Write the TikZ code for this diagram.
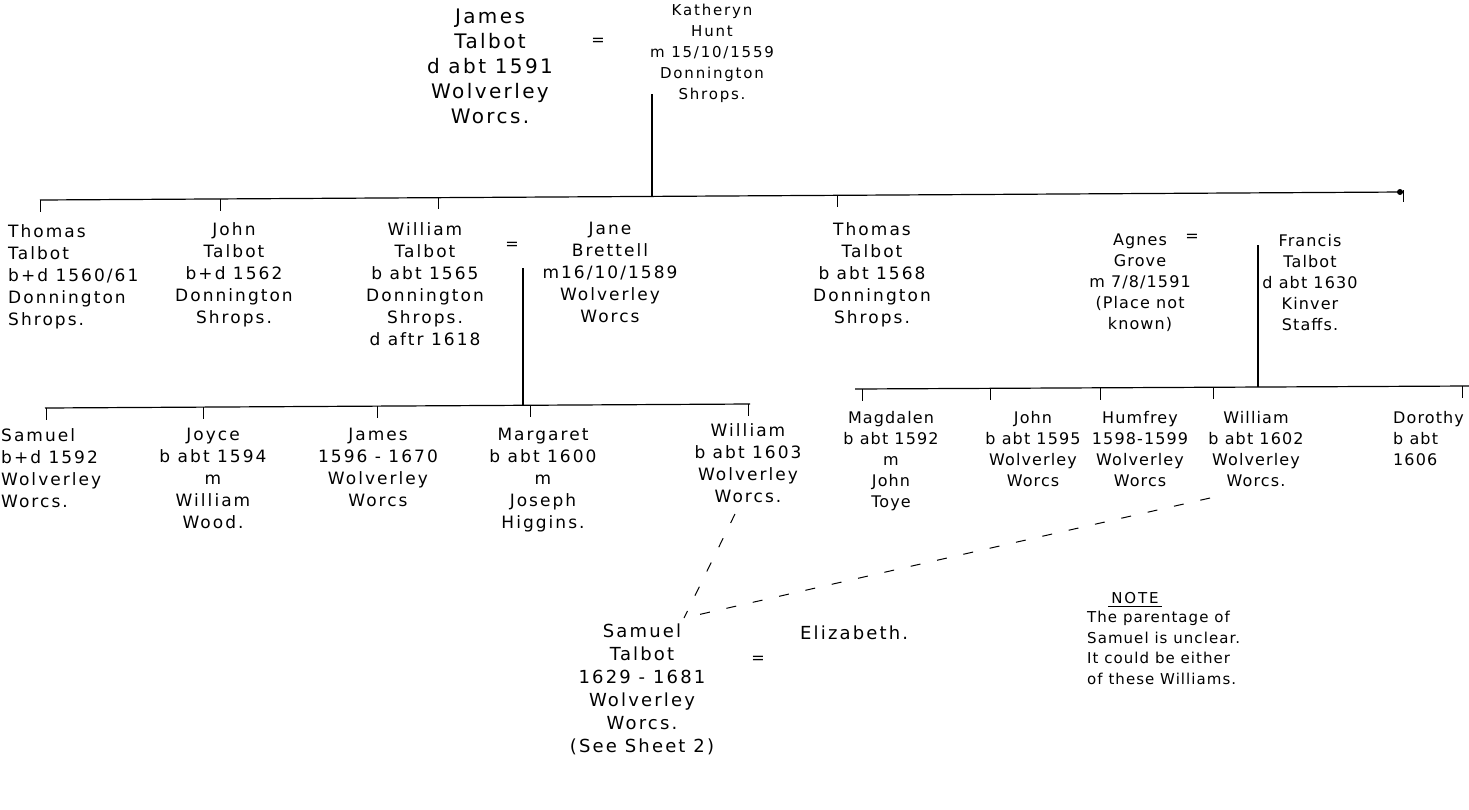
\documentclass[tikz,border=0pt]{standalone}
\usepackage{fontspec}
\usetikzlibrary{calc}
\newfontfamily\hand{DejaVu Sans}[LetterSpace=12]
\newfontfamily\handn{DejaVu Sans}[LetterSpace=7]
\tikzset{
  person/.style={align=center, inner sep=0pt, anchor=north, font=\hand\fontsize{17}{22}\selectfont},
  personL/.style={person, align=left, anchor=north west},
  smallperson/.style={person, font=\handn\fontsize{16}{21}\selectfont},
  bigperson/.style={person, font=\hand\fontsize{20}{25}\selectfont},
  eqsign/.style={inner sep=0pt, font=\hand\fontsize{16}{16}\selectfont},
  famline/.style={line width=1.2pt, black},
  tick/.style={line width=1pt, black},
  unsure/.style={line width=1pt, dash pattern=on 10pt off 17pt}
}
\begin{document}
\begin{tikzpicture}[x=1pt,y=-1pt]
\useasboundingbox (0,0) rectangle (1469,809);
\clip (0,0) rectangle (1469,809);
% top couple
\node[bigperson] (james) at (490,9) {James\\Talbot\\d abt 1591\\Wolverley\\Worcs.};
\node[eqsign] (eq1) at (598,42) {=};
\node[person, font=\hand\fontsize{15}{21}\selectfont] (kath) at (712,4) {Katheryn\\Hunt\\m 15/10/1559\\Donnington\\Shrops.};
\coordinate (m1) at (652,94);
\coordinate (j1) at (652,197);
\coordinate (g1L) at (40,200);
\coordinate (g1R) at (1403,192);
\draw[famline] (m1) -- (j1);
\draw[famline] (g1L) -- (g1R);
% generation 1 tick tops
\coordinate (t11) at (40,200);
\coordinate (t12) at (220,199);
\coordinate (t13) at (438,197);
\coordinate (t14) at (837,195);
\coordinate (t15) at (1403,190);
\foreach \t in {t11,t12,t13,t14,t15} \draw[tick] (\t) -- ++(0,12);
\fill (1400,192) circle (3pt);
% generation 1
\node[personL] (thomas1) at (8,224) {Thomas\\Talbot\\b+d 1560/61\\Donnington\\Shrops.};
\node[person] (john1) at (234,222) {John\\Talbot\\b+d 1562\\Donnington\\Shrops.};
\node[person] (william1) at (425,222) {William\\Talbot\\b abt 1565\\Donnington\\Shrops.\\d aftr 1618};
\node[eqsign] (eq2) at (512,246) {=};
\node[person] (jane) at (610,222) {Jane\\Brettell\\m16/10/1589\\Wolverley\\Worcs};
\node[person] (thomas2) at (872,222) {Thomas\\Talbot\\b abt 1568\\Donnington\\Shrops.};
\node[smallperson] (agnes) at (1140,234) {Agnes\\Grove\\m 7/8/1591\\(Place not\\known)};
\node[eqsign] (eq3) at (1192,238) {=};
\node[smallperson] (francis) at (1310,234) {Francis\\Talbot\\d abt 1630\\Kinver\\Staffs.};
% William = Jane children
\coordinate (m2) at (523,268);
\coordinate (j2) at (523,405);
\draw[famline] (m2) -- (j2);
\coordinate (g2L) at (45,408);
\coordinate (g2R) at (750,404);
\draw[famline] (g2L) -- (g2R);
\coordinate (t21) at (46,408);
\coordinate (t22) at (203,407);
\coordinate (t23) at (377,406);
\coordinate (t24) at (530,405);
\coordinate (t25) at (748,404);
\foreach \t in {t21,t22,t23,t24,t25} \draw[tick] (\t) -- ++(0,12);
\node[personL] (samuel1) at (1,428) {Samuel\\b+d 1592\\Wolverley\\Worcs.};
\node[person] (joyce) at (213,428) {Joyce\\b abt 1594\\m\\William\\Wood.};
\node[person] (james2) at (378,428) {James\\1596 - 1670\\Wolverley\\Worcs};
\node[person] (margaret) at (543,428) {Margaret\\b abt 1600\\m\\Joseph\\Higgins.};
\node[person] (william2) at (748,423) {William\\b abt 1603\\Wolverley\\Worcs.};
% Agnes = Francis children
\coordinate (m3) at (1258,245);
\coordinate (j3) at (1258,387);
\draw[famline] (m3) -- (j3);
\coordinate (g3L) at (855,389);
\coordinate (g3R) at (1469,386);
\draw[famline] (g3L) -- (g3R);
\coordinate (t31) at (862,389);
\coordinate (t32) at (990,388);
\coordinate (t33) at (1100,388);
\coordinate (t34) at (1213,387);
\coordinate (t35) at (1462,386);
\foreach \t in {t31,t32,t33,t34,t35} \draw[tick] (\t) -- ++(0,12);
\node[smallperson] (magdalen) at (891,411) {Magdalen\\b abt 1592\\m\\John\\Toye};
\node[smallperson] (john2) at (1033,411) {John\\b abt 1595\\Wolverley\\Worcs};
\node[smallperson] (humfrey) at (1140,411) {Humfrey\\1598-1599\\Wolverley\\Worcs};
\node[smallperson] (william3) at (1256,411) {William\\b abt 1602\\Wolverley\\Worcs.};
\node[smallperson, align=left, anchor=north west] (dorothy) at (1393,411) {Dorothy\\b abt\\1606};
% Samuel Talbot
\node[person, font=\hand\fontsize{18}{23}\selectfont] (samuel2) at (642,624) {Samuel\\Talbot\\1629 - 1681\\Wolverley\\Worcs.\\(See Sheet 2)};
\node[eqsign] (eq4) at (758,660) {=};
\node[inner sep=0pt, anchor=west, font=\hand\fontsize{18}{20}\selectfont] (eliz) at (800,633) {Elizabeth.};
\coordinate (sj) at (684,618);
\draw[unsure] (735,514) -- (sj);
\draw[unsure] (1210,498) -- (sj);
% note
\node[inner sep=0pt, font=\hand\fontsize{15}{18}\selectfont] (noteh) at (1135,598) {NOTE};
\draw[line width=0.8pt] ($(noteh.south west)+(-3,3)$) -- ($(noteh.south east)+(3,3)$);
\node[personL, font=\handn\fontsize{15}{20.5}\selectfont] (note) at (1087,611) {The parentage of\\Samuel is unclear.\\It could be either\\of these Williams.};
\end{tikzpicture}
\end{document}
